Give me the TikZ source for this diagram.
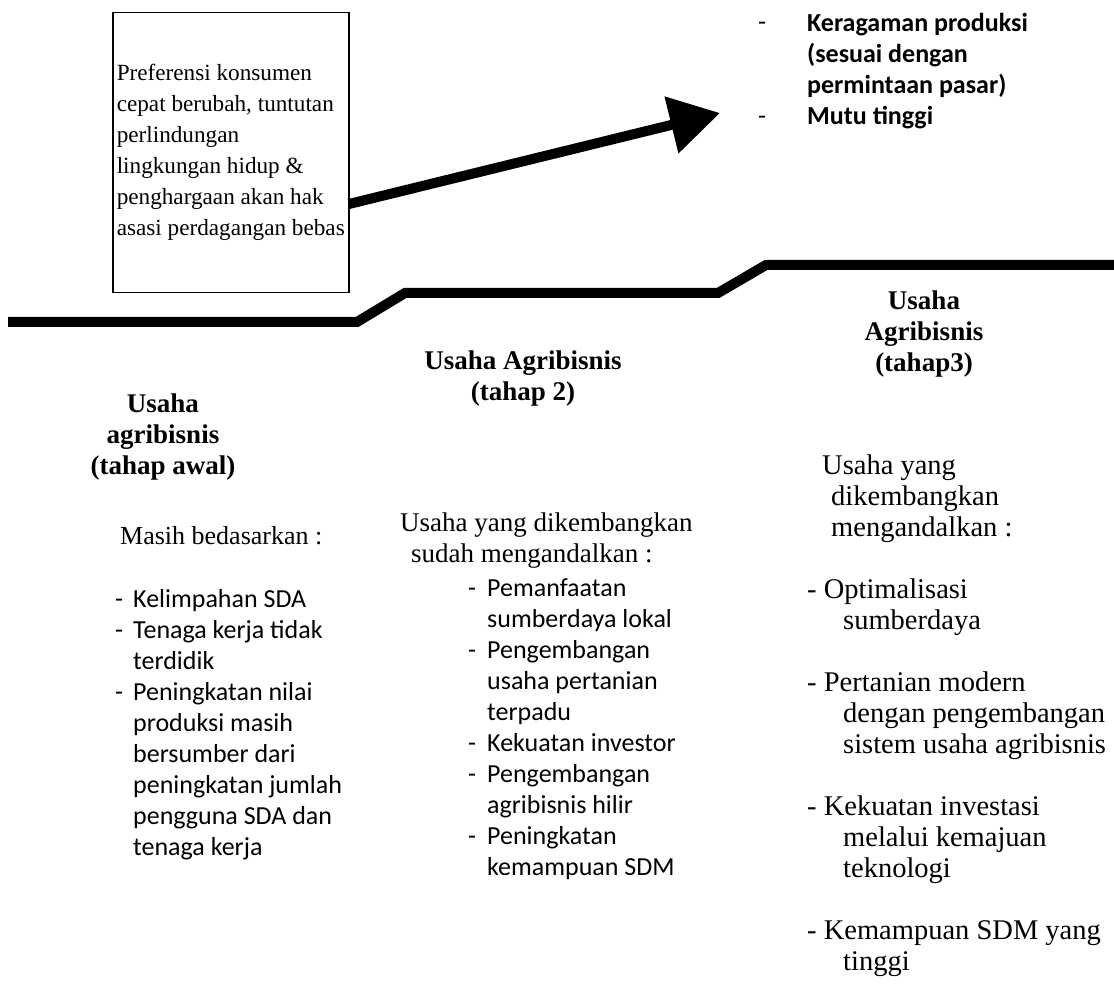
\documentclass[tikz,border=0pt]{standalone}
\usepackage{fontspec}
\setmainfont{Liberation Serif}
\newfontfamily\calfont{Carlito}
\usetikzlibrary{arrows.meta}

\tikzset{
  serif/.style={font=\fontsize{26}{31}\selectfont, inner sep=0pt, align=left},
  bigserif/.style={font=\fontsize{28.5}{31}\selectfont, inner sep=0pt, align=left},
  sans/.style={font=\calfont\fontsize{26}{31}\selectfont, inner sep=0pt, align=left},
  head/.style={font=\bfseries\fontsize{27}{31}\selectfont, inner sep=0pt, align=center},
  stepline/.style={line width=10pt},
  bigarrow/.style={line width=10pt, -{Triangle[length=50pt,width=56pt]}}
}

\begin{document}
\begin{tikzpicture}[x=1pt,y=-1pt]
  \useasboundingbox (0,0) rectangle (1114,992);

  % box and arrow
  \node[draw, line width=1.5pt, minimum width=236pt, minimum height=280pt,
        font=\fontsize{23.2}{31}\selectfont, inner xsep=4pt,
        align=left, anchor=north west] (pref) at (112,12)
    {Preferensi konsumen\\cepat berubah, tuntutan\\perlindungan\\lingkungan hidup \&\\penghargaan akan hak\\asasi perdagangan bebas};
  \coordinate (a0) at (349,204);
  \coordinate (a1) at (720,113);
  \draw[bigarrow] (a0) -- (a1);

  % target list
  \node[sans, anchor=mid west] (dt1) at (758,28) {-};
  \node[sans, anchor=mid west] (dt2) at (758,122) {-};
  \node[sans, font=\calfont\bfseries\fontsize{26}{31}\selectfont, anchor=mid west] (target) at (807,122)
    {Keragaman produksi\\(sesuai dengan\\permintaan pasar)\\Mutu tinggi};

  % steps
  \draw[stepline] (8,322) -- (357,322) -- (405,293) -- (718,293) -- (766,265) -- (1114,265);

  % tahap awal
  \node[head, anchor=mid] (h1) at (163,472) {Usaha\\agribisnis\\(tahap awal)};
  \node[serif, anchor=mid west] (i1) at (120,542) {Masih bedasarkan :};
  \foreach \y [count=\i] in {605,636,698}
    \node[sans, anchor=mid west] (d1\i) at (115,\y) {-};
  \node[sans, anchor=mid west] (l1) at (133,853)
    {Kelimpahan SDA\\Tenaga kerja tidak\\terdidik\\Peningkatan nilai\\produksi masih\\bersumber dari\\peningkatan jumlah\\pengguna SDA dan\\tenaga kerja};

  % tahap 2
  \node[head, anchor=mid] (h2) at (523,398) {Usaha Agribisnis\\(tahap 2)};
  \node[serif, font=\fontsize{27}{31}\selectfont, anchor=mid west] (i2) at (400,560)
    {Usaha yang dikembangkan\\\hspace*{11pt}sudah mengandalkan :};
  \foreach \y [count=\i] in {594,656,749,780,842}
    \node[sans, anchor=mid west] (d2\i) at (468,\y) {-};
  \node[sans, anchor=mid west] (l2) at (487,873)
    {Pemanfaatan\\sumberdaya lokal\\Pengembangan\\usaha pertanian\\terpadu\\Kekuatan investor\\Pengembangan\\agribisnis hilir\\Peningkatan\\kemampuan SDM};

  % tahap 3
  \node[head, anchor=mid] (h3) at (924,369) {Usaha\\Agribisnis\\(tahap3)};
  \node[bigserif, anchor=mid west] (i3) at (822,534) {Usaha yang\\\hspace*{9pt}dikembangkan\\\hspace*{9pt}mengandalkan :};
  \node[bigserif, anchor=mid west] (l3) at (807,968)
    {- Optimalisasi\\\hspace*{36pt}sumberdaya\\[31pt]
     - Pertanian modern\\\hspace*{36pt}dengan pengembangan\\\hspace*{36pt}sistem usaha agribisnis\\[31pt]
     - Kekuatan investasi\\\hspace*{36pt}melalui kemajuan\\\hspace*{36pt}teknologi\\[31pt]
     - Kemampuan SDM yang\\\hspace*{36pt}tinggi};
\end{tikzpicture}
\end{document}
